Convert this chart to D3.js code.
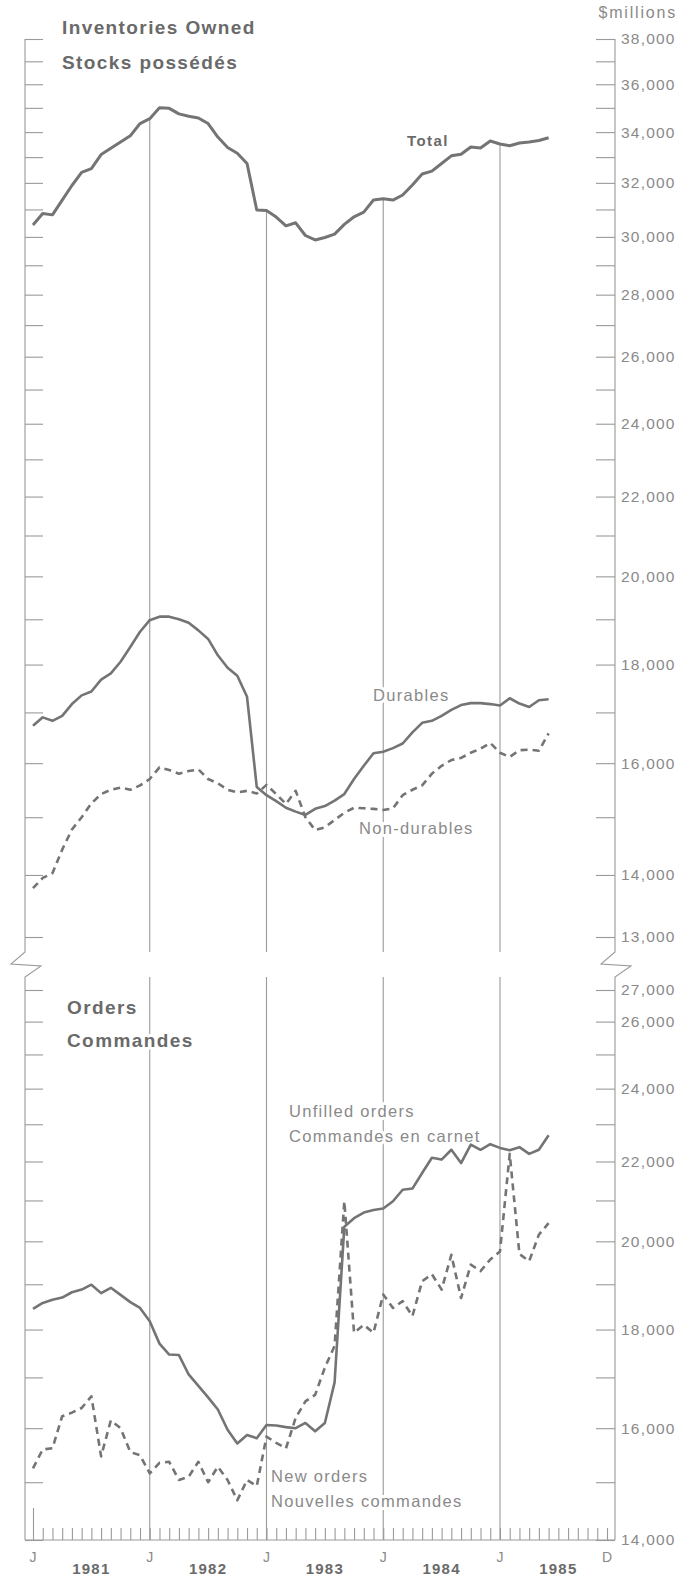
<!DOCTYPE html>
<html>
<head>
<meta charset="utf-8">
<script src="https://cdn.jsdelivr.net/npm/d3@7"></script>
<style>
  body { margin: 0; background: #fff; }
  svg { display: block; font-family: "Liberation Sans", Arial, sans-serif; }
</style>
</head>
<body>
<div id="root"></div>
<script>
// monthly values, Jan 1981 .. Jun 1985 ($ millions)
const total = [30430, 30850, 30800, 31350, 31900, 32400, 32550, 33100, 33350, 33600, 33850, 34350,
  34550, 35000, 34980, 34750, 34650, 34580, 34350, 33800, 33380, 33150, 32750, 30980,
  30960, 30720, 30400, 30510, 30050, 29890, 29980, 30100, 30450, 30730, 30900, 31350,
  31400, 31350, 31540, 31920, 32340, 32450, 32750, 33050, 33110, 33400, 33360, 33640,
  33520, 33450, 33560, 33600, 33660, 33770];

const durables = [16730, 16900, 16830, 16930, 17170, 17350, 17430, 17680, 17810, 18060, 18380, 18720,
  18980, 19060, 19060, 19000, 18920, 18750, 18560, 18200, 17930, 17760, 17320, 15550,
  15400, 15290, 15170, 15100, 15040, 15150, 15200, 15300, 15420, 15700, 15950, 16190,
  16220, 16290, 16380, 16600, 16790, 16830, 16930, 17050, 17150, 17190, 17190, 17170,
  17140, 17290, 17180, 17110, 17250, 17270];

const nonDurables = [13780, 13950, 14030, 14430, 14780, 15000, 15250, 15420, 15500, 15540, 15500, 15580,
  15700, 15920, 15870, 15800, 15850, 15880, 15700, 15620, 15500, 15450, 15480, 15430,
  15590, 15420, 15240, 15480, 15000, 14770, 14820, 14950, 15080, 15170, 15160, 15150,
  15130, 15160, 15400, 15500, 15580, 15800, 15950, 16060, 16100, 16200, 16280, 16390,
  16200, 16120, 16250, 16260, 16240, 16580];

const unfilled = [18450, 18580, 18650, 18700, 18820, 18880, 18990, 18800, 18920, 18760, 18600, 18470,
  18180, 17700, 17470, 17460, 17060, 16830, 16600, 16360, 15970, 15710, 15870, 15810,
  16060, 16050, 16020, 16000, 16100, 15940, 16100, 16900, 20350, 20560, 20700, 20760,
  20800, 20980, 21270, 21300, 21700, 22100, 22050, 22310, 21960, 22450, 22310, 22460,
  22360, 22300, 22380, 22200, 22310, 22700];

const newOrders = [15250, 15600, 15620, 16230, 16300, 16390, 16620, 15470, 16150, 16000, 15550, 15490,
  15160, 15350, 15370, 15040, 15100, 15370, 15000, 15280, 15040, 14680, 15040, 14930,
  15840, 15720, 15620, 16200, 16520, 16650, 17200, 17650, 20980, 17930, 18100, 17930,
  18770, 18470, 18620, 18290, 19070, 19230, 18880, 19680, 18690, 19450, 19300, 19570,
  19760, 22200, 19700, 19530, 20160, 20440];

const years = ['1981', '1982', '1983', '1984', '1985'];
const monthLabels = [{ m: 0, t: 'J' }, { m: 12, t: 'J' }, { m: 24, t: 'J' }, { m: 36, t: 'J' }, { m: 48, t: 'J' }, { m: 59, t: 'D' }];

const topTicks = d3.range(13000, 38001, 1000);
const topLabels = [13000, 14000, 16000, 18000, 20000, 22000, 24000, 26000, 28000, 30000, 32000, 34000, 36000, 38000];
const botTicks = d3.range(14000, 27001, 1000);
const botLabels = [14000, 16000, 18000, 20000, 22000, 24000, 26000, 27000];

const width = 695;
const height = 1581;
const leftX = 25;
const rightX = 615;
const baseY = 1540;
const breakTop = 952;
const breakBottom = 977;

const lineColor = '#747474';
const axisColor = '#9a9a9a';
const textColor = '#8a8a8a';
const titleColor = '#6a6a6a';

const svg = d3.select('#root').append('svg')
  .attr('width', width)
  .attr('height', height);

const x = d3.scaleLinear().domain([0, 59]).range([33, 607]);
const yTop = d3.scaleLog().domain([13000, 38000]).range([937, 39]);
const yBot = d3.scaleLog().domain([14000, 27000]).range([baseY, 990]);

// vertical January lines, starting from the Total line
const grid = svg.append('g')
  .attr('stroke', axisColor)
  .attr('stroke-width', 1.1);

[12, 24, 36, 48].forEach(m => {
  grid.append('line')
    .attr('x1', x(m)).attr('x2', x(m))
    .attr('y1', yTop(total[m])).attr('y2', breakTop);
  grid.append('line')
    .attr('x1', x(m)).attr('x2', x(m))
    .attr('y1', breakBottom).attr('y2', baseY);
});

// y axes
const fmt = d3.format(',');

function styleAxis(g) {
  g.select('.domain').remove();
  g.selectAll('line').attr('stroke', axisColor).attr('stroke-width', 1.1);
  g.selectAll('text')
    .attr('fill', textColor)
    .attr('font-size', 15.5)
    .attr('letter-spacing', 1.2)
    .attr('font-family', '"Liberation Sans", Arial, sans-serif');
}

[[yTop, topTicks, topLabels], [yBot, botTicks, botLabels]].forEach(([scale, ticks, labels]) => {
  svg.append('g')
    .attr('transform', `translate(${rightX}, 0)`)
    .call(d3.axisRight(scale)
      .tickValues(ticks)
      .tickSizeInner(-19)
      .tickSizeOuter(0)
      .tickPadding(6)
      .tickFormat(d => labels.includes(d) ? fmt(d) : ''))
    .call(styleAxis);

  svg.append('g')
    .attr('transform', `translate(${leftX}, 0)`)
    .call(d3.axisRight(scale)
      .tickValues(ticks)
      .tickSizeInner(18)
      .tickSizeOuter(0)
      .tickFormat(''))
    .call(styleAxis);
});

// axis lines with the scale break
function brokenAxis(x0) {
  return `M${x0},${yTop(38000)} V${breakTop} L${x0 - 14},${breakTop + 12} ` +
    `L${x0 + 16},${breakTop + 14} L${x0},${breakBottom} V${baseY}`;
}

[leftX, rightX].forEach(x0 => {
  svg.append('path')
    .attr('d', brokenAxis(x0))
    .attr('fill', 'none')
    .attr('stroke', axisColor)
    .attr('stroke-width', 1.1);
});

// x axis: month ticks on a baseline
svg.append('line')
  .attr('x1', leftX).attr('x2', rightX)
  .attr('y1', baseY).attr('y2', baseY)
  .attr('stroke', axisColor)
  .attr('stroke-width', 1.1);

svg.append('g')
  .attr('transform', `translate(0, ${baseY})`)
  .call(d3.axisTop(x)
    .tickValues(d3.range(60))
    .tickSizeInner(12)
    .tickSizeOuter(0)
    .tickFormat(''))
  .call(g => g.select('.domain').remove())
  .call(g => g.selectAll('line')
    .attr('stroke', axisColor)
    .attr('stroke-width', 1.1)
    .attr('y2', d => d === 0 ? -32 : -12));

svg.append('g')
  .selectAll('text')
  .data(monthLabels)
  .enter()
  .append('text')
  .attr('x', d => x(d.m))
  .attr('y', 1562)
  .attr('text-anchor', 'middle')
  .attr('fill', textColor)
  .attr('font-size', 14)
  .text(d => d.t);

svg.append('g')
  .selectAll('text')
  .data(years)
  .enter()
  .append('text')
  .attr('x', (d, i) => x(i * 12 + 6))
  .attr('y', 1574)
  .attr('text-anchor', 'middle')
  .attr('fill', titleColor)
  .attr('font-size', 15)
  .attr('font-weight', 'bold')
  .attr('letter-spacing', 1.2)
  .text(d => d);

// titles and series labels (white halo knocks out the grid lines)
const labels = [
  { text: '$millions', x: 677, y: 18, size: 16, anchor: 'end', bold: false, color: textColor, ls: 1.8 },
  { text: 'Inventories Owned', x: 62, y: 34, size: 19, bold: true, color: titleColor },
  { text: 'Stocks possédés', x: 62, y: 69, size: 19, bold: true, color: titleColor },
  { text: 'Total', x: 407, y: 146, size: 15, bold: true, color: titleColor },
  { text: 'Durables', x: 373, y: 701, size: 16.5, bold: false, color: textColor },
  { text: 'Non-durables', x: 359, y: 834, size: 16.5, bold: false, color: textColor },
  { text: 'Orders', x: 67, y: 1014, size: 19, bold: true, color: titleColor },
  { text: 'Commandes', x: 67, y: 1047, size: 19, bold: true, color: titleColor },
  { text: 'Unfilled orders', x: 289, y: 1117, size: 16.5, bold: false, color: textColor },
  { text: 'Commandes en carnet', x: 289, y: 1142, size: 16.5, bold: false, color: textColor },
  { text: 'New orders', x: 271, y: 1482, size: 16.5, bold: false, color: textColor },
  { text: 'Nouvelles commandes', x: 271, y: 1507, size: 16.5, bold: false, color: textColor },
];

svg.append('g')
  .selectAll('text')
  .data(labels)
  .enter()
  .append('text')
  .attr('x', d => d.x)
  .attr('y', d => d.y)
  .attr('text-anchor', d => d.anchor || 'start')
  .attr('font-size', d => d.size)
  .attr('font-weight', d => d.bold ? 'bold' : 'normal')
  .attr('letter-spacing', d => d.ls || (d.bold ? 1.4 : 1.3))
  .attr('fill', d => d.color)
  .attr('stroke', '#fff')
  .attr('stroke-width', 6)
  .attr('stroke-linejoin', 'round')
  .attr('paint-order', 'stroke')
  .text(d => d.text);

// series
const series = [
  { values: total, scale: yTop, dash: null, w: 3 },
  { values: durables, scale: yTop, dash: null, w: 2.6 },
  { values: nonDurables, scale: yTop, dash: '7,5', w: 2.6 },
  { values: unfilled, scale: yBot, dash: null, w: 2.6 },
  { values: newOrders, scale: yBot, dash: '7,5', w: 2.6 },
];

svg.append('g')
  .selectAll('path')
  .data(series)
  .enter()
  .append('path')
  .attr('d', s => d3.line().x((d, i) => x(i)).y(d => s.scale(d))(s.values))
  .attr('fill', 'none')
  .attr('stroke', lineColor)
  .attr('stroke-width', s => s.w)
  .attr('stroke-linejoin', 'round')
  .attr('stroke-dasharray', s => s.dash);
</script>
</body>
</html>
